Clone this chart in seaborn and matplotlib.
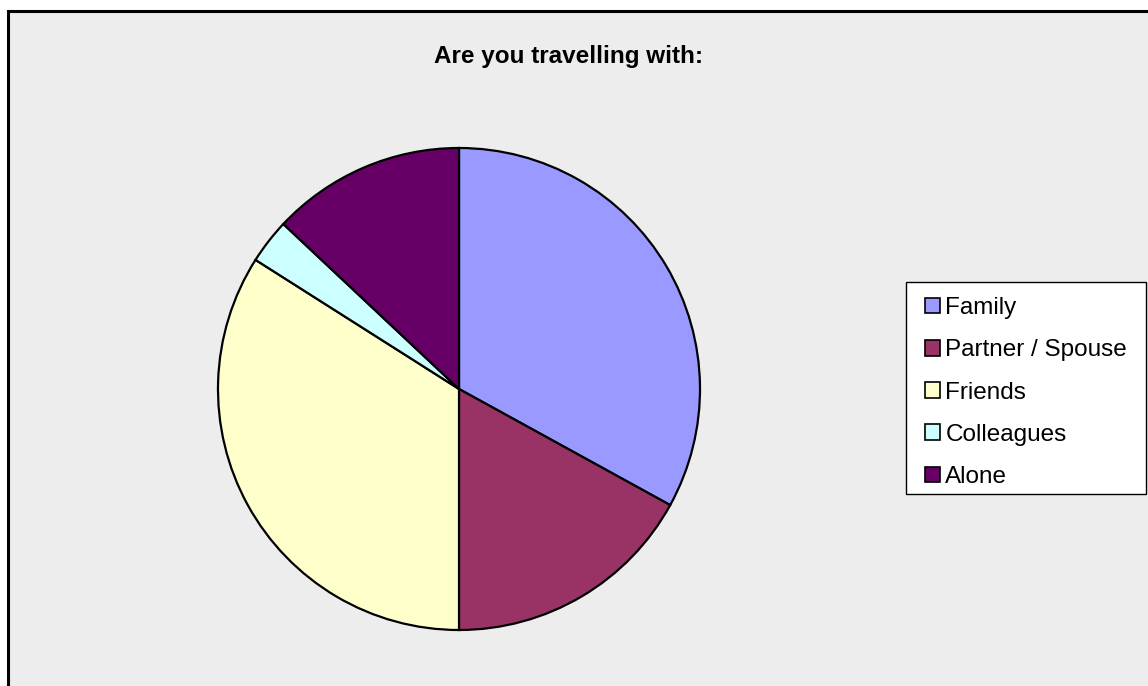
import matplotlib
matplotlib.use("Agg")
import matplotlib.pyplot as plt
from matplotlib.patches import Rectangle, Patch
import seaborn as sns

# Survey answers: who the respondents travel with (share, %)
categories = ["Family", "Partner / Spouse", "Friends", "Colleagues", "Alone"]
shares = [33, 17, 34, 3, 13]
colors = ["#9999FF", "#993366", "#FFFFCC", "#CCFFFF", "#660066"]
title = "Are you travelling with:"

sns.set_style("white")
plt.rcParams["font.family"] = ["Liberation Sans", "DejaVu Sans"]
plt.rcParams["text.color"] = "black"

W, H, DPI = 1148, 686, 100
fig = plt.figure(figsize=(W / DPI, H / DPI), dpi=DPI)
fig.patch.set_facecolor("white")

# grey chart area with a dark border
fig.patches.append(Rectangle((8 / W, -0.2), 1.2, 1.2 - 11 / H, transform=fig.transFigure,
                             facecolor="#EDEDED", edgecolor="black", linewidth=2.2,
                             zorder=-5))

# pie axes: centre (459, 389) px, radius 241 px
cx, cy, r = 459, 389, 241
half = 300
ax = fig.add_axes([(cx - half) / W, (H - cy - half) / H, 2 * half / W, 2 * half / H])
ax.set_zorder(2)
ax.set_facecolor("none")
ax.pie(shares, colors=colors, startangle=90, counterclock=False,
       wedgeprops=dict(edgecolor="black", linewidth=1.6))
lim = half / r
ax.set_xlim(-lim, lim)
ax.set_ylim(-lim, lim)
ax.set_aspect("equal")
ax.axis("off")

fig.text(569 / W, 1 - 56 / H, title, ha="center", va="center",
         fontsize=17.5, fontweight="bold", color="black")

# legend box drawn separately so its padding can be set freely
fig.patches.append(Rectangle((906 / W, 1 - 494 / H), 240 / W, 212 / H,
                             transform=fig.transFigure, facecolor="white",
                             edgecolor="black", linewidth=1.0, zorder=3))

handles = [Patch(facecolor=c, edgecolor="black", linewidth=1.2) for c in colors]
leg = fig.legend(handles, categories, loc="upper left",
                 bbox_to_anchor=(925 / W, 1 - 297 / H), borderaxespad=0,
                 fontsize=17.5, frameon=False,
                 handlelength=0.62, handleheight=0.62, handletextpad=0.22,
                 labelspacing=0.835, borderpad=0)
leg.set_zorder(4)
for t in leg.get_texts():
    t.set_color("black")

fig.savefig("out.png", dpi=DPI)
